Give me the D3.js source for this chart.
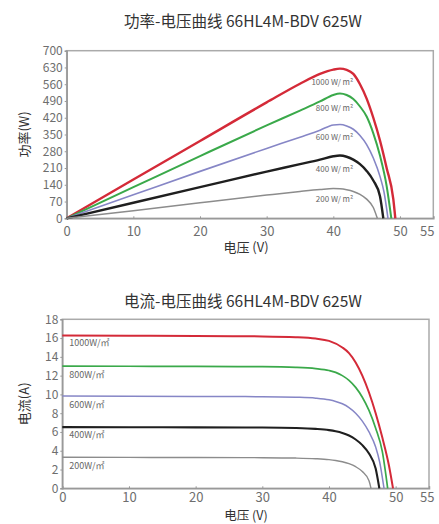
<!DOCTYPE html>
<html>
<head>
<meta charset="utf-8">
<script src="https://cdn.jsdelivr.net/npm/d3@7"></script>
<style>
  html, body { margin: 0; padding: 0; background: #fff; }
  body { font-family: "Noto Sans CJK SC", "Noto Sans", sans-serif; }
  .title { font-size: 15.5px; fill: #333; text-anchor: middle; }
  .axis_label { font-size: 13px; fill: #333; text-anchor: middle; }
  .tick text { fill: #6e6e6e; }
</style>
</head>
<body>
<div id="container"><svg></svg></div>
<script>
let width = 439;
let height = 524;

// irradiance series
let series_names = ['1000', '800', '600', '400', '200'];
let colors = ['#d42a38', '#3aa94a', '#8686c6', '#1f1f1f', '#8c8c8c'];
let pv_widths = [2.4, 2, 1.6, 2.4, 1.5];
let iv_widths = [2, 1.7, 1.5, 2.1, 1.4];

// power-voltage curves
let pv_v_1000 = [0, 10, 20, 30, 35, 38, 40, 41, 42, 43, 44, 45, 46, 47, 48, 49, 49.3];
let pv_p_1000 = [0, 162, 323, 484, 562, 603, 621, 625, 620, 603, 560, 500, 420, 325, 210, 80, 0];
let pv_v_800 = [0, 10, 20, 30, 35, 38, 40, 41, 42, 43, 44, 45, 46, 47, 48, 48.7];
let pv_p_800 = [0, 130, 260, 388, 450, 488, 515, 521, 515, 498, 467, 425, 355, 262, 135, 0];
let pv_v_600 = [0, 10, 20, 30, 35, 38, 40, 41, 42, 43, 44, 45, 46, 47, 47.6, 48.2];
let pv_p_600 = [0, 98, 196, 292, 339, 368, 390, 392, 386, 372, 346, 308, 252, 175, 110, 0];
let pv_v_400 = [0, 10, 20, 30, 35, 38, 40, 41, 42, 43, 44, 45, 46, 47, 47.5];
let pv_p_400 = [0, 65, 130, 195, 226, 245, 259, 262, 257, 245, 226, 198, 158, 92, 0];
let pv_v_200 = [0, 10, 20, 30, 35, 38, 40, 41, 42, 43, 44, 45, 46, 46.6];
let pv_p_200 = [0, 32, 65, 97, 112, 120, 124, 123, 119, 112, 100, 80, 45, 0];

// current-voltage curves
let iv_v_1000 = [0, 10, 20, 30, 35, 38, 40, 42, 43, 44, 45, 46, 47, 48, 49, 49.6];
let iv_i_1000 = [16.28, 16.25, 16.22, 16.18, 16.1, 15.95, 15.7, 15.0, 14.4, 13.4, 12.0, 10.2, 8.0, 5.4, 2.4, 0];
let iv_v_800 = [0, 10, 20, 30, 35, 38, 40, 41, 42, 43, 44, 45, 46, 47, 48, 48.8];
let iv_i_800 = [13.02, 13.0, 12.98, 12.95, 12.88, 12.75, 12.55, 12.35, 12.0, 11.5, 10.75, 9.7, 8.3, 6.4, 3.9, 0];
let iv_v_600 = [0, 10, 20, 30, 35, 38, 40, 41, 42, 43, 44, 45, 46, 47, 47.6, 48.25];
let iv_i_600 = [9.82, 9.8, 9.78, 9.76, 9.7, 9.6, 9.42, 9.25, 9.0, 8.6, 8.0, 7.15, 6.0, 4.4, 2.8, 0];
let iv_v_400 = [0, 10, 20, 30, 35, 38, 40, 41, 42, 43, 44, 45, 46, 47, 47.55];
let iv_i_400 = [6.52, 6.5, 6.49, 6.47, 6.42, 6.33, 6.2, 6.08, 5.9, 5.62, 5.2, 4.6, 3.7, 2.1, 0];
let iv_v_200 = [0, 10, 20, 30, 35, 38, 40, 41, 42, 43, 44, 45, 46, 46.3];
let iv_i_200 = [3.3, 3.29, 3.28, 3.26, 3.22, 3.15, 3.05, 2.96, 2.83, 2.62, 2.3, 1.78, 0.8, 0];

// label positions (data units)
let pv_label_y = [570, 460, 339, 206, 81];
let iv_label_y = [15.5, 12.07, 8.87, 5.68, 2.41];

let x_ticks = [0, 10, 20, 30, 40, 50, 55];
let p_ticks = [0, 70, 140, 210, 280, 350, 420, 490, 560, 630, 700];
let i_ticks = [0, 2, 4, 6, 8, 10, 12, 14, 16, 18];

let pv_sets = [
    [pv_v_1000, pv_p_1000], [pv_v_800, pv_p_800], [pv_v_600, pv_p_600],
    [pv_v_400, pv_p_400], [pv_v_200, pv_p_200]
];
let iv_sets = [
    [iv_v_1000, iv_i_1000], [iv_v_800, iv_i_800], [iv_v_600, iv_i_600],
    [iv_v_400, iv_i_400], [iv_v_200, iv_i_200]
];

let svg = d3.select('#container').select('svg')
    .attr('width', width)
    .attr('height', height);

function draw_panel(opt) {
    let x = d3.scaleLinear().domain([0, 55]).range([opt.left, opt.right]);
    let y = d3.scaleLinear().domain([0, opt.ymax]).range([opt.bottom, opt.top]);

    svg.append('text')
        .attr('class', 'title')
        .attr('x', 243)
        .attr('y', opt.title_y)
        .text(opt.title);

    // frame
    svg.append('rect')
        .attr('x', opt.left).attr('y', opt.top)
        .attr('width', opt.right - opt.left).attr('height', opt.bottom - opt.top)
        .attr('fill', 'none').attr('stroke', '#aaa').attr('stroke-width', 1.5);

    // x axis
    let gx = svg.append('g')
        .attr('transform', `translate(0, ${opt.bottom})`)
        .call(d3.axisBottom(x).tickValues(x_ticks).tickSize(-2).tickPadding(opt.xpad).tickFormat(d => d))
        .attr('font-family', '"Noto Sans CJK SC", sans-serif')
        .attr('font-size', '13px');
    gx.select('.domain').attr('stroke', '#999').attr('stroke-width', 1.5);
    gx.selectAll('.tick line').attr('stroke', '#999');
    // last label sits against the right edge
    gx.selectAll('.tick text')
        .filter(d => d === 55)
        .attr('text-anchor', 'end')
        .attr('x', width - 5 - opt.right);

    // y axis
    let gy = svg.append('g')
        .attr('transform', `translate(${opt.left}, 0)`)
        .call(d3.axisLeft(y).tickValues(opt.ticks).tickSize(2).tickPadding(2).tickFormat(d => d))
        .attr('font-family', '"Noto Sans CJK SC", sans-serif')
        .attr('font-size', '12px');
    gy.select('.domain').attr('stroke', '#999').attr('stroke-width', 1.5);
    gy.selectAll('.tick line').attr('stroke', '#999');

    // axis labels
    svg.append('text')
        .attr('class', 'axis_label')
        .attr('x', 246)
        .attr('y', opt.xlabel_y)
        .attr('font-size', opt.xlabel_size)
        .style('font-size', opt.xlabel_size)
        .text('电压 (V)');
    svg.append('text')
        .attr('class', 'axis_label')
        .attr('transform', `translate(29, ${(opt.top + opt.bottom) / 2}) rotate(-90)`)
        .text(opt.ylabel);

    // curves
    let line = d3.line()
        .x(d => x(d[0]))
        .y(d => y(d[1]))
        .curve(d3.curveMonotoneX);

    opt.sets.forEach((s, i) => {
        let pts = s[0].map((v, k) => [v, s[1][k]]);
        svg.append('path')
            .datum(pts)
            .attr('d', line)
            .attr('fill', 'none')
            .attr('stroke', colors[i])
            .attr('stroke-width', opt.widths[i])
            .attr('stroke-linejoin', 'round');
    });

    // irradiance labels
    svg.append('g')
        .selectAll('text')
        .data(series_names)
        .enter().append('text')
        .attr('x', x(opt.label_x))
        .attr('y', (d, i) => y(opt.label_y[i]))
        .attr('dy', '0.35em')
        .attr('text-anchor', opt.label_anchor)
        .attr('font-size', opt.label_size)
        .attr('fill', '#666')
        .text(d => d + opt.label_unit);
}

draw_panel({
    title: '功率-电压曲线 66HL4M-BDV 625W',
    title_y: 27,
    left: 66.7, right: 433.3, top: 50.7, bottom: 218.3,
    ymax: 700, ticks: p_ticks, widths: pv_widths, xpad: 8,
    ylabel: '功率(W)',
    xlabel_y: 252, xlabel_size: '13px',
    sets: pv_sets,
    label_x: 43.0, label_y: pv_label_y, label_anchor: 'end',
    label_size: '8px', label_unit: ' W/ m²'
});

draw_panel({
    title: '电流-电压曲线 66HL4M-BDV 625W',
    title_y: 307,
    left: 62.3, right: 429, top: 319.3, bottom: 488.3,
    ymax: 18, ticks: i_ticks, widths: iv_widths, xpad: 4,
    ylabel: '电流(A)',
    xlabel_y: 520, xlabel_size: '12.5px',
    sets: iv_sets,
    label_x: 1.05, label_y: iv_label_y, label_anchor: 'start',
    label_size: '9px', label_unit: 'W/㎡'
});
</script>
</body>
</html>
